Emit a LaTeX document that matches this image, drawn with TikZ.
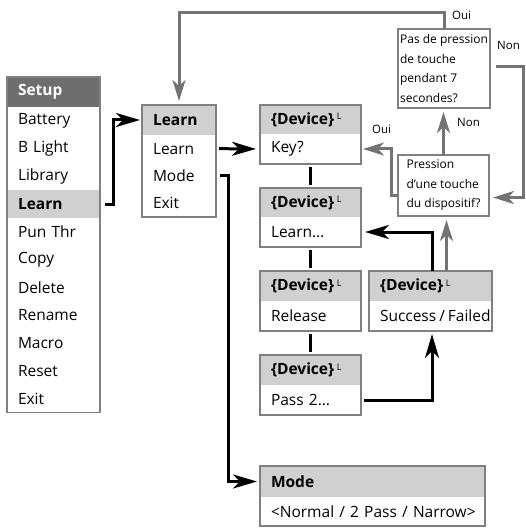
\documentclass[tikz,border=0pt]{standalone}
\usepackage{fontspec}
\setmainfont{Open Sans}
\usetikzlibrary{arrows.meta}
\definecolor{hdrdark}{HTML}{6E6E6E}
\definecolor{hdrlight}{HTML}{D0D0D0}
\definecolor{bordergray}{HTML}{808080}
\definecolor{linkgray}{HTML}{737373}
\newcommand\mainsz{\fontsize{15.5}{18}\selectfont}
\newcommand\smallsz{\fontsize{12}{19.5}\selectfont}
\newcommand\labsz{\fontsize{11.5}{13}\selectfont}
\newcommand\supL{\,{\mdseries\fontsize{9}{9}\selectfont\raisebox{4.5pt}{L}}}
\begin{document}
\begin{tikzpicture}[x=1pt,y=-1pt,
  cell/.style={anchor=north west, inner xsep=0pt, inner ysep=0pt, outer sep=0pt,
    align=left, text width=#1, minimum width=#1, font=\mainsz,
    execute at begin node=\hspace*{11pt}},
  hdr/.style={cell=#1, fill=hdrlight, font=\mainsz\bfseries},
  frame/.style={draw=bordergray, line width=1.2pt},
  qbox/.style={draw=bordergray, line width=1.2pt, anchor=north west, inner sep=0pt,
    outer sep=0pt, align=left, font=\smallsz},
  blk/.style={draw=black, line width=3pt, -{Stealth[length=24pt,width=14pt,inset=7pt]}},
  gry/.style={draw=linkgray, line width=3pt, -{Stealth[length=21pt,width=13pt,inset=6pt]}},
  vlink/.style={draw=black, line width=3pt, shorten <=3pt, shorten >=3pt},
  lab/.style={font=\labsz, inner sep=0pt, anchor=west},
]
\useasboundingbox (0,0) rectangle (526,529);

% Setup menu
\node[cell=93, fill=hdrdark, text=white, font=\mainsz\bfseries, minimum height=30] (setupH) at (7,77) {Setup};
\node[cell=93, minimum height=27.8] (sBattery) at (7,107) {Battery};
\node[cell=93, minimum height=27.8] (sBLight) at (7,134.8) {B Light};
\node[cell=93, minimum height=27.8] (sLibrary) at (7,162.6) {Library};
\node[cell=93, minimum height=27.8, fill=hdrlight, font=\mainsz\bfseries] (sLearn) at (7,190.4) {Learn};
\node[cell=93, minimum height=27.8] (sPun) at (7,218.2) {Pun Thr};
\node[cell=93, minimum height=27.8] (sCopy) at (7,246) {Copy};
\node[cell=93, minimum height=27.8] (sDelete) at (7,273.8) {Delete};
\node[cell=93, minimum height=27.8] (sRename) at (7,301.6) {Rename};
\node[cell=93, minimum height=27.8] (sMacro) at (7,329.4) {Macro};
\node[cell=93, minimum height=27.8] (sReset) at (7,357.2) {Reset};
\node[cell=93, minimum height=27.8] (sExit) at (7,385) {Exit};
\draw[frame] (setupH.north west) rectangle (sExit.south east);

% Learn menu
\node[hdr=74, minimum height=30] (learnH) at (142,105) {Learn};
\node[cell=74, minimum height=27.3] (lLearn) at (142,135) {Learn};
\node[cell=74, minimum height=27.3] (lMode) at (142,162.3) {Mode};
\node[cell=74, minimum height=27.3] (lExit) at (142,189.6) {Exit};
\draw[frame] (learnH.north west) rectangle (lExit.south east);

% Device boxes
\node[hdr=101, minimum height=29] (keyH) at (260,105) {\{Device\}\supL};
\node[cell=101, minimum height=30] (keyB) at (260,134) {Key?};
\draw[frame] (keyH.north west) rectangle (keyB.south east);

\node[hdr=101, minimum height=29] (lrnH) at (260,188) {\{Device\}\supL};
\node[cell=101, minimum height=30] (lrnB) at (260,217) {Learn…};
\draw[frame] (lrnH.north west) rectangle (lrnB.south east);

\node[hdr=101, minimum height=30] (relH) at (260,271) {\{Device\}\supL};
\node[cell=101, minimum height=30] (relB) at (260,301) {Release};
\draw[frame] (relH.north west) rectangle (relB.south east);

\node[hdr=101, minimum height=30] (pasH) at (260,355) {\{Device\}\supL};
\node[cell=101, minimum height=30] (pasB) at (260,385) {Pass 2…};
\draw[frame] (pasH.north west) rectangle (pasB.south east);

\node[hdr=123, minimum height=30] (sucH) at (369,271) {\{Device\}\supL};
\node[cell=123, minimum height=30] (sucB) at (369,301) {\spaceskip=3pt Success / Failed};
\draw[frame] (sucH.north west) rectangle (sucB.south east);

\node[hdr=225, minimum height=31] (modeH) at (260,466) {Mode};
\node[cell=225, minimum height=29] (modeB) at (260,497) {<Normal / 2 Pass / Narrow>};
\draw[frame] (modeH.north west) rectangle (modeB.south east);

% Question boxes
\node[qbox, minimum width=92, minimum height=79] (noPress) at (398,29)
  {Pas de pression\\de touche\\pendant 7\\secondes?};
\node[qbox, minimum width=91, minimum height=61] (press) at (398,155)
  {Pression\\d'une touche\\du dispositif?};

% Black connectors
\draw[blk, shorten <=5pt, shorten >=2pt] (sLearn.east) -- ++(13,0) |- (learnH.west);
\draw[blk, shorten <=3pt, shorten >=4pt] (lLearn.east) -- (keyB.west);
\draw[blk, shorten <=4pt, shorten >=3pt] (lMode.east) -- ++(12,0) |- (modeH.west);
\draw[vlink] (keyB.south) -- (lrnH.north);
\draw[vlink] (lrnB.south) -- (relH.north);
\draw[vlink] (relB.south) -- (pasH.north);
\draw[blk, shorten <=3pt, shorten >=3pt] (pasB.east) -| ([xshift=1.5pt]sucB.south);
\draw[blk, shorten >=4pt] ([xshift=1.5pt]sucH.north) |- (lrnB.east);

% Gray connectors
\draw[gry, shorten >=4pt] ([xshift=3pt]press.south |- sucH.north) -- ([xshift=3pt]press.south);
\draw[gry, shorten >=4pt] (press.north) -- (press.north |- noPress.south);
\draw[gry, shorten <=6pt, shorten >=4pt] ([yshift=2pt]noPress.east) -- ++(33,0) |- ([yshift=-12pt]press.east);
\draw[gry, shorten >=4pt] (noPress.north) -- ++(0,-16) -| (learnH.north);
\draw[gry, shorten >=2pt] ([yshift=-10pt]press.west) -- ++(-7,0) |- (keyB.east);

% Labels
\node[lab] (ouiTop) at (452,15) {Oui};
\node[lab] (nonRight) at (497,45) {Non};
\node[lab] (nonMid) at (457,122) {Non};
\node[lab] (ouiLeft) at (372,129) {Oui};
\end{tikzpicture}
\end{document}
